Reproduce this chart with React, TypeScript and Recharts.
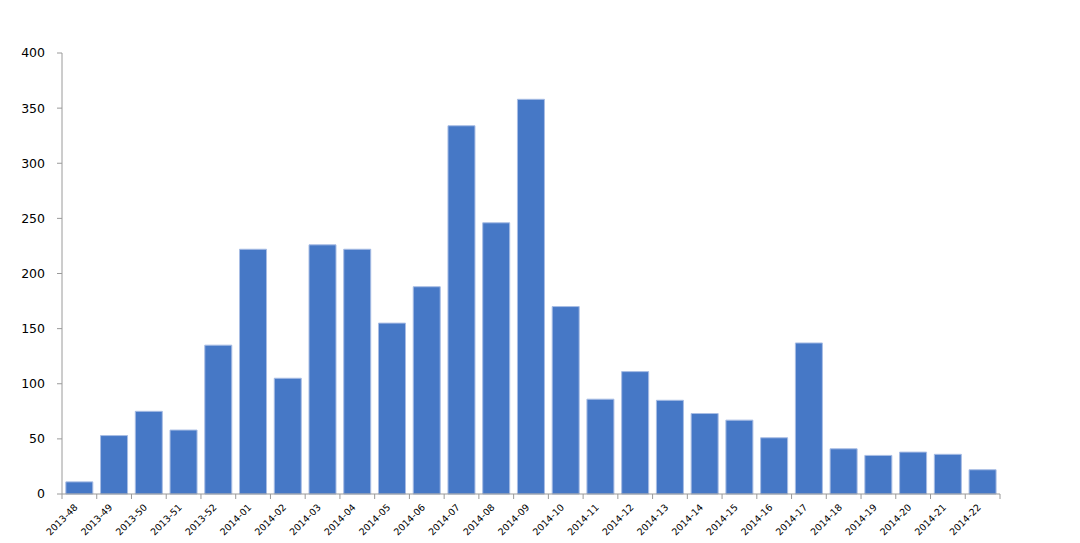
import React from "react";
import { BarChart, Bar, XAxis, YAxis } from "recharts";

const weeks = [
  "2013-48", "2013-49", "2013-50", "2013-51", "2013-52",
  "2014-01", "2014-02", "2014-03", "2014-04", "2014-05", "2014-06", "2014-07",
  "2014-08", "2014-09", "2014-10", "2014-11", "2014-12", "2014-13", "2014-14",
  "2014-15", "2014-16", "2014-17", "2014-18", "2014-19", "2014-20", "2014-21", "2014-22",
];
const counts = [
  11, 53, 75, 58, 135, 222, 105, 226, 222, 155, 188, 334, 246, 358, 170,
  86, 111, 85, 73, 67, 51, 137, 41, 35, 38, 36, 22,
];
const yTicks = [0, 50, 100, 150, 200, 250, 300, 350, 400];

const data = weeks.map((w, i) => ({ week: w, value: counts[i] }));

const FONT = "'DejaVu Sans', Verdana, sans-serif";
const AXIS = "#9a9a9a";

const XTick = (props: any) => {
  const { x, y, payload, index } = props;
  const off = payload.offset || 0;
  const last = index === weeks.length - 1;
  const axisY = y - 8;
  const tx = x - 1;
  const ty = axisY + 14;
  return (
    <g>
      <line x1={x - off} x2={x - off} y1={axisY} y2={axisY + 5} stroke={AXIS} />
      {last && <line x1={x + off} x2={x + off} y1={axisY} y2={axisY + 5} stroke={AXIS} />}
      <text
        x={tx}
        y={ty}
        textAnchor="end"
        fontSize={9.5}
        fontFamily={FONT}
        fill="#000"
        transform={`rotate(-45, ${tx}, ${ty})`}
      >
        {payload.value}
      </text>
    </g>
  );
};

export default function App() {
  return (
    <div style={{ width: 1064, height: 535 }}>
      <BarChart
        width={1064}
        height={535}
        data={data}
        margin={{ top: 45, right: 72, bottom: 0, left: 0 }}
        barCategoryGap="11%"
      >
        <XAxis
          dataKey="week"
          interval={0}
          height={49}
          tickLine={false}
          tickSize={6}
          tickMargin={2}
          axisLine={{ stroke: AXIS }}
          tick={<XTick />}
        />
        <YAxis
          domain={[0, 400]}
          ticks={yTicks}
          width={54}
          tickSize={5}
          tickMargin={12}
          axisLine={{ stroke: AXIS }}
          tickLine={{ stroke: AXIS }}
          tick={{ fontSize: 12.5, fontFamily: FONT, fill: "#000" }}
        />
        <Bar
          dataKey="value"
          fill="#4678C6"
          stroke="#a8bde4"
          strokeWidth={1}
          isAnimationActive={false}
        />
      </BarChart>
    </div>
  );
}
